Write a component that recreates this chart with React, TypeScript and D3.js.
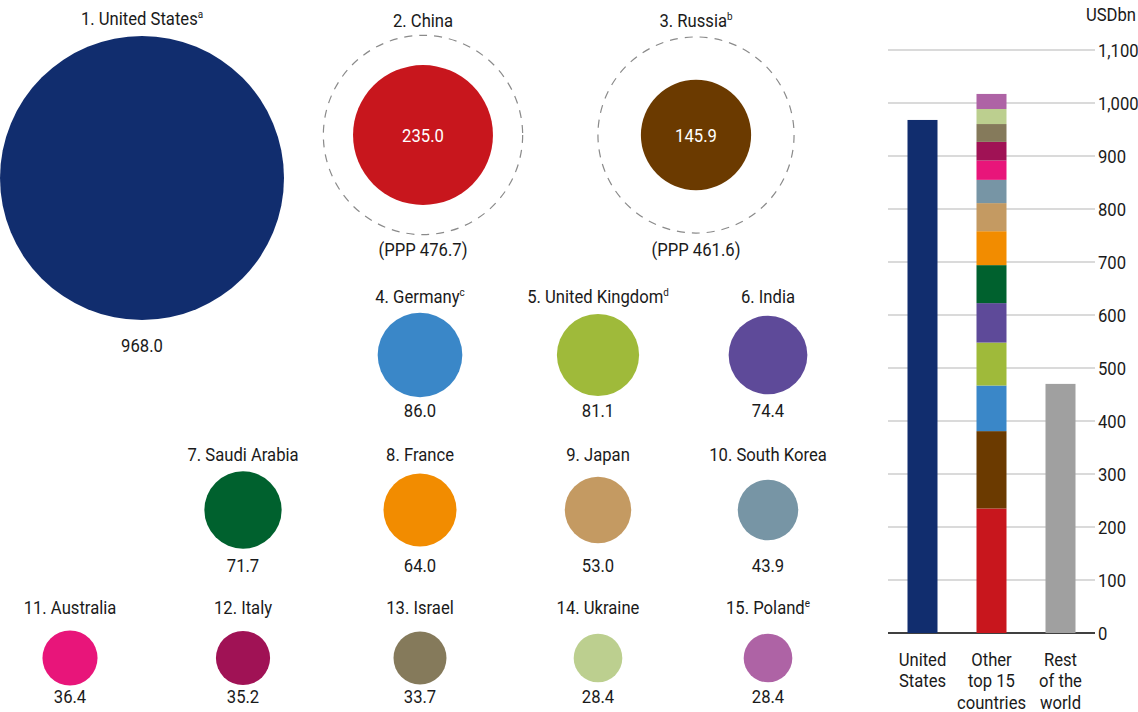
import React from "react";
import * as d3 from "d3";

const countries = ["United States", "China", "Russia", "Germany", "United Kingdom", "India", "Saudi Arabia", "France", "Japan", "South Korea", "Australia", "Italy", "Israel", "Ukraine", "Poland"];
const values = [968.0, 235.0, 145.9, 86.0, 81.1, 74.4, 71.7, 64.0, 53.0, 43.9, 36.4, 35.2, 33.7, 28.4, 28.4];
const notes = ["a", "", "b", "c", "d", "", "", "", "", "", "", "", "", "", "e"];
const colors = ["#112d6e", "#c8161d", "#6b3a00", "#3a87c8", "#9fba3a", "#5e4a99", "#00612e", "#f28c00", "#c49a62", "#7795a5", "#e8157a", "#a01255", "#857a5b", "#bccf8f", "#ae63a5"];
const pppValues: (number | null)[] = [null, 476.7, 461.6, null, null, null, null, null, null, null, null, null, null, null, null];

const barCategories = [["United", "States"], ["Other", "top 15", "countries"], ["Rest", "of the", "world"]];
const restOfWorld = 470;
const restColor = "#a0a0a0";
const yTicks = [0, 100, 200, 300, 400, 500, 600, 700, 800, 900, 1000, 1100];

const FONT = "Roboto, 'Liberation Sans', sans-serif";
const FS = 18.5;
const SX = 0.9;

const colX = [70, 243, 420, 598, 768];
const rowSpec = [
  { label: 296, circle: 355, value: 410 },
  { label: 454, circle: 510, value: 565 },
  { label: 607, circle: 658, value: 696 },
];

function layout(i: number) {
  if (i === 0) return { x: 142, label: 18, circle: 178, value: 345 };
  if (i === 1) return { x: 423, label: 20, circle: 135, value: 249 };
  if (i === 2) return { x: 696, label: 20, circle: 135, value: 249 };
  if (i <= 5) return { x: colX[i - 1], ...rowSpec[0] };
  if (i <= 9) return { x: colX[i - 5], ...rowSpec[1] };
  return { x: colX[i - 10], ...rowSpec[2] };
}

function Txt({ x, y, anchor = "middle", fill = "#1a1a1a", children }: any) {
  return (
    <text transform={`translate(${x},${y}) scale(${SX},1)`} dy="0.36em" textAnchor={anchor} fontSize={FS} fill={fill}>
      {children}
    </text>
  );
}

export default function App() {
  const W = 1138, H = 712;
  const r = d3.scaleSqrt().domain([0, values[0]]).range([0, 142]);
  const y = d3.scaleLinear().domain([0, 1100]).range([633, 50]);
  const xb = d3.scaleBand<number>().domain([0, 1, 2]).range([888, 1095]);
  const bw = 30;
  const stackVals = values.slice(1);
  const cum = d3.cumsum(stackVals);
  const fmt = d3.format(".1f");
  const cx = (k: number) => xb(k)! + xb.bandwidth() / 2;

  return (
    <svg width={W} height={H} style={{ position: "absolute", left: 0, top: 0, fontFamily: FONT }}>
      <rect width={W} height={H} fill="#fff" />
      {countries.map((c, i) => {
        const L = layout(i);
        const rad = r(values[i]);
        const ppp = pppValues[i];
        return (
          <g key={c}>
            {ppp != null && (
              <circle cx={L.x} cy={L.circle} r={r(ppp)} fill="none" stroke="#8a8a8a" strokeWidth={1.2} strokeDasharray="8 7" />
            )}
            <circle cx={L.x} cy={L.circle} r={rad} fill={colors[i]} />
            <Txt x={L.x} y={L.label}>
              {`${i + 1}. ${c}`}
              {notes[i] && <tspan fontSize={11} dy="-0.6em">{notes[i]}</tspan>}
            </Txt>
            {ppp != null ? (
              <>
                <Txt x={L.x} y={L.circle} fill="#fff">{fmt(values[i])}</Txt>
                <Txt x={L.x} y={L.value}>{`(PPP ${fmt(ppp)})`}</Txt>
              </>
            ) : (
              <Txt x={L.x} y={L.value}>{fmt(values[i])}</Txt>
            )}
          </g>
        );
      })}

      {/* bar chart */}
      <Txt x={1136} y={14} anchor="end">USDbn</Txt>
      {yTicks.map((t) => (
        <g key={t}>
          <line x1={888} x2={1095} y1={y(t)} y2={y(t)} stroke={t === 0 ? "#000" : "#b5b5b5"} strokeWidth={t === 0 ? 1.3 : 1.2} />
          <Txt x={1098} y={y(t)} anchor="start">{d3.format(",")(t)}</Txt>
        </g>
      ))}
      <rect x={cx(0) - bw / 2} width={bw} y={y(values[0])} height={y(0) - y(values[0])} fill={colors[0]} />
      {stackVals.map((v, k) => {
        const top = cum[k];
        const bottom = top - v;
        return <rect key={k} x={cx(1) - bw / 2} width={bw} y={y(top)} height={y(bottom) - y(top)} fill={colors[k + 1]} />;
      })}
      <rect x={cx(2) - bw / 2} width={bw} y={y(restOfWorld)} height={y(0) - y(restOfWorld)} fill={restColor} />
      {barCategories.map((lines, k) =>
        lines.map((l, j) => (
          <Txt key={`${k}-${j}`} x={cx(k)} y={659 + j * 21.5}>{l}</Txt>
        ))
      )}
    </svg>
  );
}
